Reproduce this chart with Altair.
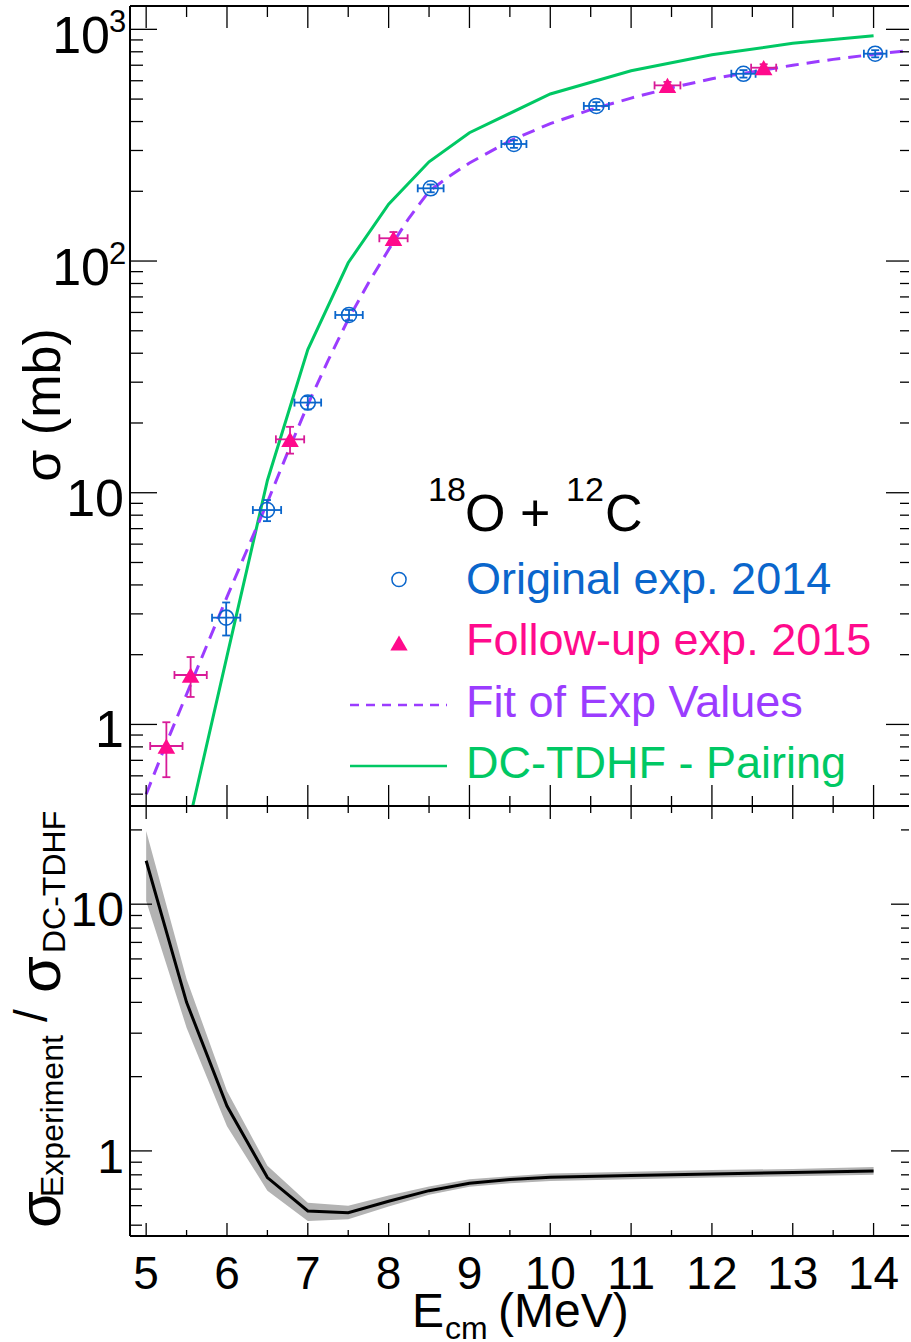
import altair as alt
import pandas as pd

FONT = "Liberation Sans"
BLUE = "#0a66cc"
PINK = "#ff0a8c"
PINK_ERR = "#d81b98"
PURPLE = "#9b3cff"
GREEN = "#00c864"
BAND = "#b3b3b3"

# ---------------- data ----------------
# Original experiment (2014): E_cm, sigma, x-error, y-error
orig_e = [5.99, 6.495, 7.00, 7.51, 8.52, 9.55, 10.57, 12.39, 14.02]
orig_s = [2.89, 8.42, 24.5, 58.5, 206, 320, 467, 643, 785]
orig_de = [0.175, 0.175, 0.165, 0.17, 0.16, 0.155, 0.155, 0.15, 0.14]
orig_ds = [0.47, 0.88, 1.6, 3.0, 8, 12, 18, 24, 28]

# Follow-up experiment (2015)
foll_e = [5.25, 5.55, 6.78, 8.06, 11.45, 12.64]
foll_s = [0.807, 1.634, 17.0, 125.4, 573, 683]
foll_de = [0.2, 0.2, 0.175, 0.175, 0.16, 0.155]
foll_ds = [0.215, 0.32, 2.25, 8, 20, 24]

# Fit of the experimental values
fit_e = [5.0, 5.25, 5.5, 5.75, 6.0, 6.25, 6.5, 6.75, 7.0, 7.25, 7.5, 7.75, 8.0,
         8.25, 8.5, 8.75, 9.0, 9.5, 10.0, 10.5, 11.0, 11.5, 12.0, 12.5, 13.0,
         13.5, 14.0, 14.44]
fit_s = [0.50, 0.83, 1.35, 2.19, 3.55, 5.69, 9.1, 14.9, 24.0, 37.2, 56.0, 80.4,
         112, 153, 200, 232, 265, 330, 392, 450, 505, 560, 612, 655, 700,
         742, 780, 810]

# DC-TDHF with pairing
tdhf_e = [5.0, 5.5, 6.0, 6.5, 7.0, 7.5, 8.0, 8.5, 9.0, 10, 11, 12, 13, 14]
tdhf_s = [0.033, 0.34, 1.97, 11.3, 41.5, 98.3, 176, 268, 358, 526, 663, 777, 870, 938]

# sigma_exp / sigma_DC-TDHF with its band
ratio_e = [5.0, 5.5, 6.0, 6.5, 7.0, 7.5, 8.0, 8.5, 9.0, 9.5, 10, 11, 12, 13, 14]
ratio_v = [15.0, 4.0, 1.52, 0.78, 0.571, 0.562, 0.625, 0.69, 0.74, 0.765, 0.782,
           0.795, 0.807, 0.817, 0.83]
ratio_lo = [10.3, 3.16, 1.26, 0.69, 0.52, 0.528, 0.595, 0.665, 0.715, 0.74, 0.755,
            0.768, 0.78, 0.79, 0.80]
ratio_hi = [19.8, 4.97, 1.75, 0.87, 0.617, 0.60, 0.66, 0.718, 0.768, 0.79, 0.81,
            0.823, 0.836, 0.845, 0.86]

# axis ticks and labels
x_major = [5, 6, 7, 8, 9, 10, 11, 12, 13, 14]
x_minor = [5.5, 6.5, 7.5, 8.5, 9.5, 10.5, 11.5, 12.5, 13.5]
x_text = ["5", "6", "7", "8", "9", "10", "11", "12", "13", "14"]

s_major = [1, 10, 100, 1000]
s_minor = [0.5, 0.6, 0.7, 0.8, 0.9, 2, 3, 4, 5, 6, 7, 8, 9,
           20, 30, 40, 50, 60, 70, 80, 90, 200, 300, 400, 500, 600, 700, 800, 900]
s_plain_vals = [1, 10]
s_plain_text = ["1", "10"]
s_pow_vals = [100, 1000]
s_pow_exp = ["2", "3"]

r_major = [1, 10]
r_minor = [0.5, 0.6, 0.7, 0.8, 0.9, 2, 3, 4, 5, 6, 7, 8, 9, 20]
r_text = ["1", "10"]

# ---------------- scales ----------------
W, H_TOP, H_BOT = 781, 800, 430
X_SC = alt.Scale(domain=[4.8, 14.463], nice=False, zero=False)
Y_S = alt.Scale(type="log", domain=[0.4446, 1261], nice=False)
Y_R = alt.Scale(type="log", domain=[0.452, 25.0], nice=False)

ONE = pd.DataFrame({"k": [0]})


def xq(field):
    return alt.X(f"{field}:Q", scale=X_SC, axis=None)


def yq(field, sc):
    return alt.Y(f"{field}:Q", scale=sc, axis=None)


def xticks(vals, y_from, y_to):
    return alt.Chart(pd.DataFrame({"e": vals})).mark_rule(
        color="black", strokeWidth=1.3).encode(
        x=xq("e"), y=alt.value(y_from), y2=alt.value(y_to))


def yticks(vals, sc, x_from, x_to):
    return alt.Chart(pd.DataFrame({"s": vals})).mark_rule(
        color="black", strokeWidth=1.3).encode(
        y=yq("s", sc), x=alt.value(x_from), x2=alt.value(x_to))


def hline(y, x1, x2, color="black", width=2, dash=None):
    kw = dict(color=color, strokeWidth=width)
    if dash:
        kw["strokeDash"] = dash
    return alt.Chart(ONE).mark_rule(**kw).encode(
        x=alt.value(x1), x2=alt.value(x2), y=alt.value(y))


def vline(x, y1, y2):
    return alt.Chart(ONE).mark_rule(color="black", strokeWidth=2).encode(
        x=alt.value(x), y=alt.value(y1), y2=alt.value(y2))


def label(txt, x, y, size, color="black", align="left", angle=0):
    return alt.Chart(ONE).mark_text(
        text=txt, font=FONT, fontSize=size, color=color, align=align,
        baseline="alphabetic", angle=angle).encode(x=alt.value(x), y=alt.value(y))


def errbars(e, s, de, ds, color):
    df = pd.DataFrame({"e": e, "s": s})
    df["elo"] = [a - b for a, b in zip(e, de)]
    df["ehi"] = [a + b for a, b in zip(e, de)]
    df["slo"] = [a - b for a, b in zip(s, ds)]
    df["shi"] = [a + b for a, b in zip(s, ds)]
    base = alt.Chart(df)
    hbar = base.mark_rule(color=color, strokeWidth=1.8).encode(
        x=xq("elo"), x2="ehi", y=yq("s", Y_S))
    vbar = base.mark_rule(color=color, strokeWidth=1.8).encode(
        x=xq("e"), y=yq("slo", Y_S), y2="shi")
    caps = []
    for f in ("elo", "ehi"):
        caps.append(base.mark_tick(orient="vertical", size=8, thickness=1.8,
                                   color=color, opacity=1).encode(
            x=xq(f), y=yq("s", Y_S)))
    for f in ("slo", "shi"):
        caps.append(base.mark_tick(orient="horizontal", size=8, thickness=1.8,
                                   color=color, opacity=1).encode(
            x=xq("e"), y=yq(f, Y_S)))
    return [hbar, vbar] + caps


# ---------------- upper panel: cross sections ----------------
tdhf = alt.Chart(pd.DataFrame({"e": tdhf_e, "s": tdhf_s})).mark_line(
    color=GREEN, strokeWidth=3, clip=True).encode(x=xq("e"), y=yq("s", Y_S))
fit = alt.Chart(pd.DataFrame({"e": fit_e, "s": fit_s})).mark_line(
    color=PURPLE, strokeWidth=3, strokeDash=[13, 8], clip=True).encode(
    x=xq("e"), y=yq("s", Y_S))

orig_pts = alt.Chart(pd.DataFrame({"e": orig_e, "s": orig_s})).mark_point(
    shape="circle", filled=False, size=225, color=BLUE, strokeWidth=1.6,
    opacity=1).encode(x=xq("e"), y=yq("s", Y_S))
foll_pts = alt.Chart(pd.DataFrame({"e": foll_e, "s": foll_s})).mark_point(
    shape="triangle-up", filled=True, size=310, color=PINK, opacity=1).encode(
    x=xq("e"), y=yq("s", Y_S))

s_lab = alt.Chart(pd.DataFrame({"s": s_plain_vals, "t": s_plain_text})).mark_text(
    font=FONT, fontSize=52, align="right", baseline="alphabetic", dy=23).encode(
    y=yq("s", Y_S), x=alt.value(-6), text="t:N")
s_pow_base = alt.Chart(pd.DataFrame({"s": s_pow_vals})).mark_text(
    text="10", font=FONT, fontSize=52, align="right", baseline="alphabetic",
    dy=24).encode(y=yq("s", Y_S), x=alt.value(-20))
s_pow_sup = alt.Chart(pd.DataFrame({"s": s_pow_vals, "t": s_pow_exp})).mark_text(
    font=FONT, fontSize=31, align="left", baseline="alphabetic", dy=3).encode(
    y=yq("s", Y_S), x=alt.value(-21), text="t:N")

top_layers = [
    # white anchor fixing the page margin
    alt.Chart(ONE).mark_rule(color="white", strokeWidth=1).encode(
        x=alt.value(-129), x2=alt.value(-128), y=alt.value(-5)),
    tdhf, fit,
    *errbars(orig_e, orig_s, orig_de, orig_ds, BLUE),
    *errbars(foll_e, foll_s, foll_de, foll_ds, PINK_ERR),
    orig_pts, foll_pts,
    # frame
    vline(0, 0, H_TOP), hline(0, 0, W - 2), hline(H_TOP, 0, W - 2),
    # ticks
    xticks(x_major, 0, 22), xticks(x_minor, 0, 11),
    xticks(x_major, H_TOP, H_TOP - 21), xticks(x_minor, H_TOP, H_TOP - 10),
    yticks(s_major, Y_S, 0, 27), yticks(s_minor, Y_S, 0, 13),
    yticks(s_major, Y_S, W - 2, W - 25), yticks(s_minor, Y_S, W - 2, W - 11),
    s_lab, s_pow_base, s_pow_sup,
    label("σ (mb)", -70, 399, 52, align="center", angle=270),
    # legend
    label("18", 298, 495, 34),
    label("O + ", 335, 525, 52),
    label("12", 436, 495, 34),
    label("C", 475, 525, 52),
    alt.Chart(ONE).mark_point(shape="circle", filled=False, size=200, color=BLUE,
                              strokeWidth=1.5, opacity=1).encode(
        x=alt.value(269), y=alt.value(573.5)),
    alt.Chart(ONE).mark_point(shape="triangle-up", filled=True, size=300,
                              color=PINK, opacity=1).encode(
        x=alt.value(269), y=alt.value(637)),
    hline(699, 220, 317, color=PURPLE, width=2.5, dash=[9, 7]),
    hline(760, 220, 317, color=GREEN, width=2.5),
    label("Original exp. 2014", 336, 588, 45, color=BLUE),
    label("Follow-up exp. 2015", 336, 649, 45, color=PINK),
    label("Fit of Exp Values", 336, 711, 45, color=PURPLE),
    label("DC-TDHF - Pairing", 336, 772, 45, color=GREEN),
]
top = alt.layer(*top_layers).properties(width=W, height=H_TOP)

# ---------------- lower panel: ratio ----------------
rdf = pd.DataFrame({"e": ratio_e, "v": ratio_v, "lo": ratio_lo, "hi": ratio_hi})
band = alt.Chart(rdf).mark_area(color=BAND, opacity=1).encode(
    x=xq("e"), y=yq("lo", Y_R), y2="hi")
rline = alt.Chart(rdf).mark_line(color="black", strokeWidth=3).encode(
    x=xq("e"), y=yq("v", Y_R))

r_lab = alt.Chart(pd.DataFrame({"s": r_major, "t": r_text})).mark_text(
    font=FONT, fontSize=48, align="right", baseline="alphabetic", dy=22).encode(
    y=yq("s", Y_R), x=alt.value(-6), text="t:N")
x_lab = alt.Chart(pd.DataFrame({"e": x_major, "t": x_text})).mark_text(
    font=FONT, fontSize=46, align="center", baseline="alphabetic").encode(
    x=xq("e"), y=alt.value(483), text="t:N")

bot_layers = [
    band, rline,
    vline(0, 0, H_BOT), hline(H_BOT, 0, W - 2),
    xticks(x_major, 0, 13), xticks(x_minor, 0, 7),
    xticks(x_major, H_BOT, H_BOT - 13), xticks(x_minor, H_BOT, H_BOT - 6),
    yticks(r_major, Y_R, 0, 22), yticks(r_minor, Y_R, 0, 12),
    yticks(r_major, Y_R, W - 2, W - 20), yticks(r_minor, Y_R, W - 2, W - 10),
    r_lab, x_lab,
    # axis titles
    label("E", 282, 521, 48),
    label("cm", 315, 533, 32),
    label("(MeV)", 368, 521, 48),
    label("σ", -70, 422, 60, angle=270),
    label("Experiment", -67, 391, 32, angle=270),
    label("/", -83, 216, 46, angle=270),
    label("σ", -70, 187, 60, angle=270),
    label("DC-TDHF", -65, 147, 32, angle=270),
]
bottom = alt.layer(*bot_layers).properties(width=W, height=H_BOT)

chart = alt.vconcat(top, bottom, spacing=0, bounds="flush").properties(
    padding=0).configure_view(stroke=None)

chart.save("out.html", embed_options={"renderer": "svg", "actions": False})
